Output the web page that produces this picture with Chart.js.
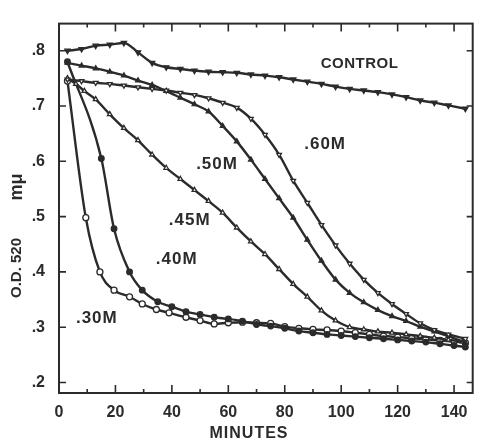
<!DOCTYPE html>
<html>
<head>
<meta charset="utf-8">
<title>O.D. 520 vs minutes</title>
<script src="https://cdn.jsdelivr.net/npm/chart.js@4.4.1/dist/chart.umd.min.js"></script>
<style>
  html, body { margin: 0; padding: 0; background: #fff; }
  #wrap { width: 478px; height: 442px; position: relative; }
</style>
</head>
<body>
<div id="wrap"><canvas id="odChart"></canvas></div>
<script>
// Waktu (menit) dan nilai O.D. 520 untuk tiap seri
var CONTROL_T = [3, 8, 13, 18, 23, 28, 33, 38, 43, 48, 53, 58, 63, 68, 73, 78, 83, 88, 93, 98, 103, 108, 113, 118, 123, 128, 133, 138, 144];
var CONTROL_OD = [0.800, 0.803, 0.809, 0.811, 0.814, 0.797, 0.778, 0.770, 0.767, 0.764, 0.762, 0.761, 0.760, 0.757, 0.755, 0.752, 0.748, 0.744, 0.740, 0.735, 0.731, 0.728, 0.725, 0.721, 0.716, 0.710, 0.706, 0.701, 0.695];

var M60_T = [3, 8, 13, 18, 23, 28, 33, 38, 43, 48, 53, 58, 63, 68, 73, 78, 83, 88, 93, 98, 103, 108, 113, 118, 123, 128, 133, 138, 144];
var M60_OD = [0.748, 0.745, 0.742, 0.740, 0.737, 0.734, 0.731, 0.728, 0.724, 0.720, 0.714, 0.706, 0.697, 0.677, 0.648, 0.612, 0.565, 0.525, 0.485, 0.448, 0.415, 0.386, 0.362, 0.342, 0.324, 0.307, 0.295, 0.287, 0.279];

var M50_T = [3, 8, 13, 18, 23, 28, 33, 38, 43, 48, 53, 58, 63, 68, 73, 78, 83, 88, 93, 98, 103, 108, 113, 118, 123, 128, 133, 138, 144];
var M50_OD = [0.778, 0.773, 0.768, 0.762, 0.755, 0.746, 0.738, 0.727, 0.715, 0.703, 0.690, 0.664, 0.636, 0.603, 0.568, 0.533, 0.498, 0.458, 0.420, 0.386, 0.362, 0.345, 0.331, 0.320, 0.311, 0.301, 0.292, 0.284, 0.272];

var M45_T = [3, 6, 9, 13, 18, 23, 28, 33, 38, 43, 48, 53, 58, 63, 68, 73, 78, 83, 88, 93, 98, 103, 108, 113, 118, 123, 128, 133, 138, 143];
var M45_OD = [0.750, 0.740, 0.727, 0.712, 0.685, 0.660, 0.638, 0.612, 0.588, 0.568, 0.548, 0.528, 0.507, 0.480, 0.455, 0.432, 0.405, 0.378, 0.355, 0.330, 0.312, 0.300, 0.296, 0.292, 0.290, 0.287, 0.284, 0.281, 0.277, 0.274];

var M40_T = [3, 15, 19.5, 25, 29.5, 35, 40, 45, 50, 55, 60, 65, 70, 75, 80, 85, 90, 95, 100, 105, 110, 115, 120, 125, 130, 135, 140, 144];
var M40_OD = [0.780, 0.605, 0.478, 0.400, 0.367, 0.346, 0.337, 0.328, 0.323, 0.318, 0.315, 0.311, 0.305, 0.302, 0.298, 0.293, 0.290, 0.287, 0.285, 0.283, 0.281, 0.279, 0.277, 0.275, 0.273, 0.270, 0.267, 0.264];

var M30_T = [3, 9.5, 14.5, 19.5, 25, 29.5, 34.5, 39, 45, 50, 55, 60, 65, 70, 75, 80, 85, 90, 95, 100, 105, 110, 115, 120, 125, 130, 135, 140, 144];
var M30_OD = [0.745, 0.498, 0.400, 0.367, 0.355, 0.342, 0.332, 0.326, 0.318, 0.312, 0.306, 0.308, 0.309, 0.308, 0.307, 0.301, 0.298, 0.296, 0.295, 0.293, 0.290, 0.287, 0.284, 0.282, 0.280, 0.278, 0.276, 0.274, 0.272];

// Label seri di dalam grafik
var SERIES_NAMES = ['CONTROL', '.60M', '.50M', '.45M', '.40M', '.30M'];

// Tick sumbu
var X_TICKS = [0, 20, 40, 60, 80, 100, 120, 140];
var X_MINOR = [10, 30, 50, 70, 90, 110, 130];
var Y_TICKS = [0.2, 0.3, 0.4, 0.5, 0.6, 0.7, 0.8];
var Y_TICK_LABELS = ['.2', '.3', '.4', '.5', '.6', '.7', '.8'];

var INK = '#2b2b2b';
var TICK_FONT = { family: "'Liberation Sans', Arial, sans-serif", size: 16, weight: 'bold' };

function toPoints(ts, vals) {
    return ts.map(function (t, i) { return { x: t, y: vals[i] }; });
}

function seriesStyle(style, rotation, filled, radius) {
    return {
        showLine: true,
        borderColor: INK,
        borderWidth: 2.4,
        cubicInterpolationMode: 'monotone',
        pointStyle: style,
        rotation: rotation,
        pointRadius: radius,
        pointBorderWidth: 1.3,
        pointBorderColor: INK,
        pointBackgroundColor: filled ? INK : '#ffffff'
    };
}

// Bingkai, tick ke dalam, label seri dan judul sumbu
var framePlugin = {
    id: 'framePlugin',
    afterDraw: function (chart) {
        var ctx = chart.ctx;
        var a = chart.chartArea;
        var xs = chart.scales.x;
        var ys = chart.scales.y;
        ctx.save();
        ctx.strokeStyle = INK;
        ctx.lineWidth = 2;
        ctx.strokeRect(a.left, a.top, a.right - a.left, a.bottom - a.top);

        ctx.lineWidth = 1.6;
        ctx.beginPath();
        X_TICKS.concat(X_MINOR).forEach(function (v) {
            var px = xs.getPixelForValue(v);
            var len = X_TICKS.indexOf(v) >= 0 ? 8 : 4;
            ctx.moveTo(px, a.bottom); ctx.lineTo(px, a.bottom - len);
            ctx.moveTo(px, a.top); ctx.lineTo(px, a.top + len);
        });
        Y_TICKS.forEach(function (v) {
            var py = ys.getPixelForValue(v);
            ctx.moveTo(a.left, py); ctx.lineTo(a.left + 7, py);
            ctx.moveTo(a.right, py); ctx.lineTo(a.right - 6, py);
        });
        ctx.stroke();

        // Label seri (posisi dalam satuan data)
        var labelPos = [[106.5, 0.777, 15], [94.3, 0.630, 17], [56, 0.595, 17], [46.3, 0.493, 17], [41.7, 0.423, 17], [13.4, 0.316, 17]];
        ctx.fillStyle = INK;
        ctx.textAlign = 'center';
        ctx.textBaseline = 'middle';
        SERIES_NAMES.forEach(function (name, i) {
            var p = labelPos[i];
            ctx.font = 'bold ' + p[2] + "px 'Liberation Sans', Arial, sans-serif";
            ctx.letterSpacing = i === 0 ? '0.5px' : '1px';
            ctx.fillText(name, xs.getPixelForValue(p[0]), ys.getPixelForValue(p[1]));
        });

        // Judul sumbu
        ctx.letterSpacing = '1px';
        ctx.font = "bold 16px 'Liberation Sans', Arial, sans-serif";
        ctx.fillText('MINUTES', 249, 434);

        ctx.translate(17, 0);
        ctx.rotate(-Math.PI / 2);
        ctx.letterSpacing = '0px';
        ctx.font = "bold 15px 'Liberation Sans', Arial, sans-serif";
        ctx.fillText('O.D. 520', -268, 0);
        ctx.font = "bold 18px 'Liberation Sans', Arial, sans-serif";
        ctx.fillText('m\u03bc', -187, 0);
        ctx.restore();
    }
};

var ctx = document.getElementById('odChart').getContext('2d');
new Chart(ctx, {
    type: 'scatter',
    data: {
        datasets: [
            Object.assign({ label: SERIES_NAMES[0], data: toPoints(CONTROL_T, CONTROL_OD) }, seriesStyle('triangle', 180, true, 3)),
            Object.assign({ label: SERIES_NAMES[1], data: toPoints(M60_T, M60_OD) }, seriesStyle('triangle', 180, false, 2.7)),
            Object.assign({ label: SERIES_NAMES[2], data: toPoints(M50_T, M50_OD) }, seriesStyle('triangle', 0, true, 2.7)),
            Object.assign({ label: SERIES_NAMES[3], data: toPoints(M45_T, M45_OD) }, seriesStyle('triangle', 0, false, 2.7)),
            Object.assign({ label: SERIES_NAMES[4], data: toPoints(M40_T, M40_OD) }, seriesStyle('circle', 0, true, 2.8)),
            Object.assign({ label: SERIES_NAMES[5], data: toPoints(M30_T, M30_OD) }, seriesStyle('circle', 0, false, 3))
        ]
    },
    options: {
        responsive: true,
        maintainAspectRatio: false,
        animation: false,
        layout: { padding: { top: 12, right: 4, left: 0, bottom: 0 } },
        plugins: {
            legend: { display: false },
            tooltip: { enabled: false }
        },
        scales: {
            x: {
                type: 'linear',
                min: 0,
                max: 146.6,
                grid: { display: false, drawTicks: false },
                border: { display: false },
                afterFit: function (scale) { scale.height = 49; },
                afterBuildTicks: function (scale) {
                    scale.ticks = X_TICKS.map(function (v) { return { value: v }; });
                },
                ticks: {
                    padding: 10,
                    color: INK,
                    font: TICK_FONT,
                    maxRotation: 0,
                    autoSkip: false
                }
            },
            y: {
                type: 'linear',
                min: 0.181,
                max: 0.849,
                grid: { display: false, drawTicks: false },
                border: { display: false },
                afterFit: function (scale) { scale.width = 59; },
                afterBuildTicks: function (scale) {
                    scale.ticks = Y_TICKS.map(function (v) { return { value: v }; });
                },
                ticks: {
                    padding: 14,
                    color: INK,
                    font: TICK_FONT,
                    autoSkip: false,
                    callback: function (value) {
                        var i = Y_TICKS.findIndex(function (v) { return Math.abs(v - value) < 1e-6; });
                        return i >= 0 ? Y_TICK_LABELS[i] : '';
                    }
                }
            }
        }
    },
    plugins: [framePlugin]
});
</script>
</body>
</html>
